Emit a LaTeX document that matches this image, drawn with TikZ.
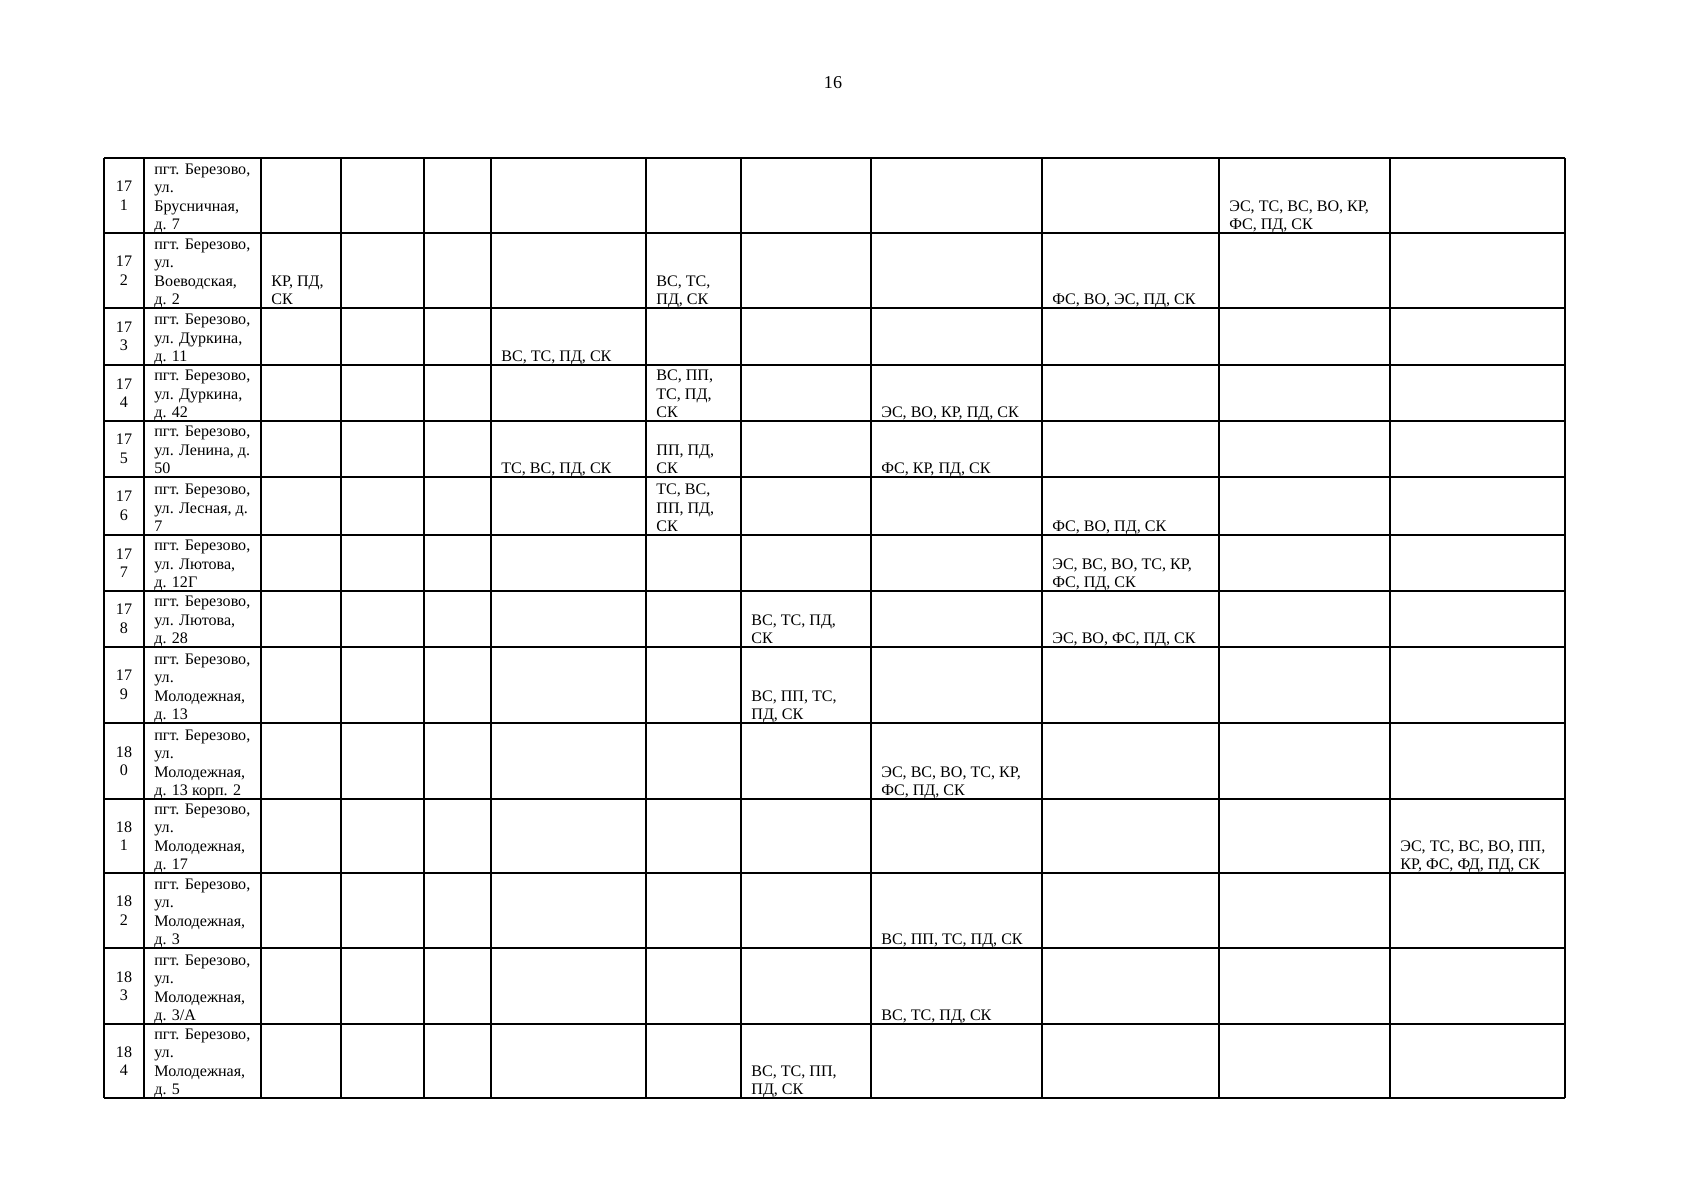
\documentclass[tikz,border=0pt]{standalone}
\usepackage{fontspec}
\setmainfont{Liberation Serif}

% column and row lines of the table (pixels of the page)
\def\xs{{104,144,261,341,424,491,646,741,871,1042,1219,1390,1565}}
\def\ys{{158,233,308,365,421,477,535,591,647,723,799,873,948,1024,1098}}

% text of one cell: name, left line, bottom line, text
\newcommand\cell[4]{%
  \pgfmathsetmacro\cellx{\xs[#2]+10}
  \pgfmathsetmacro\celly{\ys[#3]-3}
  \node[cellbox] (#1) at (\cellx,\celly) {#4};
}

\begin{document}
\begin{tikzpicture}[x=0.0175cm,y=-0.0175cm]
	\tikzset{cellbox/.style={anchor=south west, inner sep=0pt, align=left,
				text depth=0pt, font=\fontsize{8}{9.2}\selectfont}}
	\tikzset{numbox/.style={inner sep=0pt, align=center,
				font=\fontsize{8}{9.2}\selectfont}}
	\tikzset{gridline/.style={line width=0.6pt}}

	\fill[white] (0,0) rectangle (1697,1200);
	\useasboundingbox (0,0) rectangle (1697,1200);

	\node[font=\fontsize{9}{11}\selectfont] (pagenum) at (833,83) {16};

	% table lines
	\foreach \x in {104,144,261,341,424,491,646,741,871,1042,1219,1390,1565}
		\draw[gridline] (\x,158) -- (\x,1098);
	\foreach \y in {158,233,308,365,421,477,535,591,647,723,799,873,948,1024,1098}
		\draw[gridline] (104,\y) -- (1565,\y);

	% numbers
	\foreach \a/\b/\yt/\yb in {17/1/158/233,17/2/233/308,17/3/308/365,17/4/365/421,
			17/5/421/477,17/6/477/535,17/7/535/591,17/8/591/647,17/9/647/723,
			18/0/723/799,18/1/799/873,18/2/873/948,18/3/948/1024,18/4/1024/1098} {
		\node[numbox] (n\a\b) at (124,{(\yt+\yb)/2}) {\a\\\b};
	}

	% addresses
	\cell{a171}{1}{1}{пгт. Березово,\\ул.\\Брусничная,\\д. 7}
	\cell{a172}{1}{2}{пгт. Березово,\\ул.\\Воеводская,\\д. 2}
	\cell{a173}{1}{3}{пгт. Березово,\\ул. Дуркина,\\д. 11}
	\cell{a174}{1}{4}{пгт. Березово,\\ул. Дуркина,\\д. 42}
	\cell{a175}{1}{5}{пгт. Березово,\\ул. Ленина, д.\\50}
	\cell{a176}{1}{6}{пгт. Березово,\\ул. Лесная, д.\\7}
	\cell{a177}{1}{7}{пгт. Березово,\\ул. Лютова,\\д. 12Г}
	\cell{a178}{1}{8}{пгт. Березово,\\ул. Лютова,\\д. 28}
	\cell{a179}{1}{9}{пгт. Березово,\\ул.\\Молодежная,\\д. 13}
	\cell{a180}{1}{10}{пгт. Березово,\\ул.\\Молодежная,\\д. 13 корп. 2}
	\cell{a181}{1}{11}{пгт. Березово,\\ул.\\Молодежная,\\д. 17}
	\cell{a182}{1}{12}{пгт. Березово,\\ул.\\Молодежная,\\д. 3}
	\cell{a183}{1}{13}{пгт. Березово,\\ул.\\Молодежная,\\д. 3/А}
	\cell{a184}{1}{14}{пгт. Березово,\\ул.\\Молодежная,\\д. 5}

	% works
	\cell{w171}{10}{1}{ЭС, ТС, ВС, ВО, КР,\\ФС, ПД, СК}
	\cell{w172a}{2}{2}{КР, ПД,\\СК}
	\cell{w172b}{6}{2}{ВС, ТС,\\ПД, СК}
	\cell{w172c}{9}{2}{ФС, ВО, ЭС, ПД, СК}
	\cell{w173}{5}{3}{ВС, ТС, ПД, СК}
	\cell{w174a}{6}{4}{ВС, ПП,\\ТС, ПД,\\СК}
	\cell{w174b}{8}{4}{ЭС, ВО, КР, ПД, СК}
	\cell{w175a}{5}{5}{ТС, ВС, ПД, СК}
	\cell{w175b}{6}{5}{ПП, ПД,\\СК}
	\cell{w175c}{8}{5}{ФС, КР, ПД, СК}
	\cell{w176a}{6}{6}{ТС, ВС,\\ПП, ПД,\\СК}
	\cell{w176b}{9}{6}{ФС, ВО, ПД, СК}
	\cell{w177}{9}{7}{ЭС, ВС, ВО, ТС, КР,\\ФС, ПД, СК}
	\cell{w178a}{7}{8}{ВС, ТС, ПД,\\СК}
	\cell{w178b}{9}{8}{ЭС, ВО, ФС, ПД, СК}
	\cell{w179}{7}{9}{ВС, ПП, ТС,\\ПД, СК}
	\cell{w180}{8}{10}{ЭС, ВС, ВО, ТС, КР,\\ФС, ПД, СК}
	\cell{w181}{11}{11}{ЭС, ТС, ВС, ВО, ПП,\\КР, ФС, ФД, ПД, СК}
	\cell{w182}{8}{12}{ВС, ПП, ТС, ПД, СК}
	\cell{w183}{8}{13}{ВС, ТС, ПД, СК}
	\cell{w184}{7}{14}{ВС, ТС, ПП,\\ПД, СК}
\end{tikzpicture}
\end{document}
